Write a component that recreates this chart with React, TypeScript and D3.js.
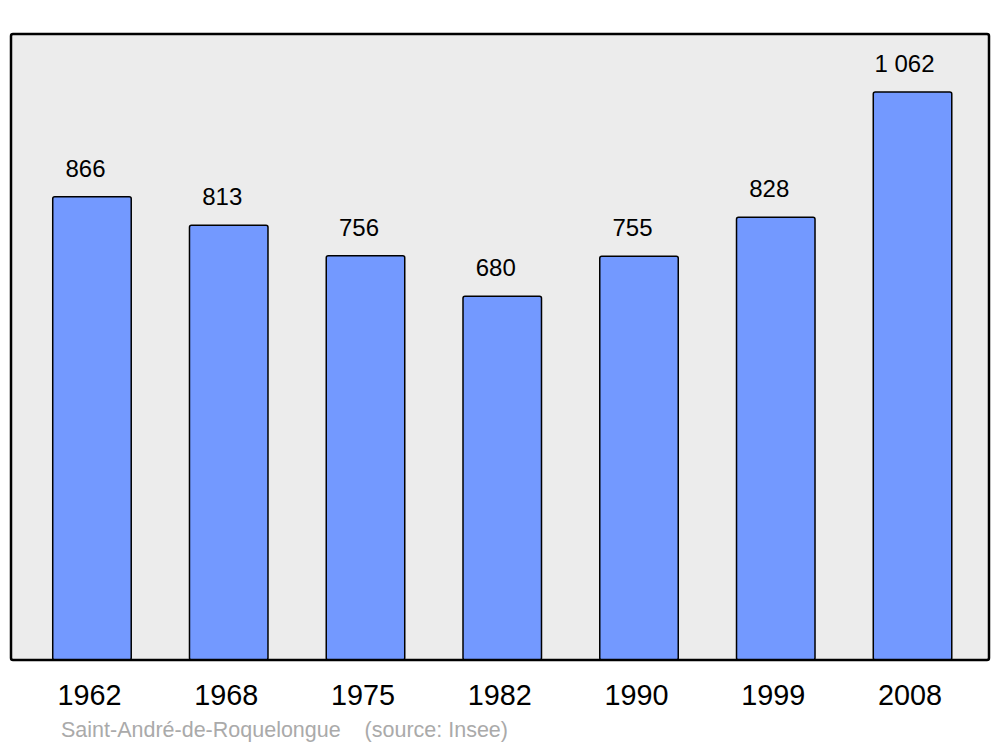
import React from "react";
import * as d3 from "d3";

const years: string[] = ["1962", "1968", "1975", "1982", "1990", "1999", "2008"];
const population: number[] = [866, 813, 756, 680, 755, 828, 1062];
const sourceLabel = "Saint-André-de-Roquelongue    (source: Insee)";

const W = 1000;
const H = 747;
const frame = { x: 11, y: 34, w: 978, h: 626 };

const fmt = (v: number) => d3.format(",")(v).replace(/,/g, " ");

export default function App() {
  const x = d3
    .scaleBand<string>()
    .domain(years)
    .range([23.6, 980.9])
    .paddingInner(0.426)
    .paddingOuter(0.213);
  const y = d3.scaleLinear().domain([0, 1170.5]).range([660, 34]);

  return (
    <svg
      width={W}
      height={H}
      style={{ position: "absolute", left: 0, top: 0 }}
      fontFamily="'Liberation Sans', Arial, sans-serif"
    >
      <rect x={0} y={0} width={W} height={H} fill="#ffffff" />
      <rect
        x={frame.x}
        y={frame.y}
        width={frame.w}
        height={frame.h}
        rx={2}
        fill="#ececec"
        stroke="none"
      />
      {years.map((yr, i) => {
        const bx = x(yr)!;
        const by = y(population[i]);
        const label = fmt(population[i]);
        return (
          <g key={yr}>
            <rect
              x={bx}
              y={by}
              width={x.bandwidth()}
              height={y(0) - by}
              rx={2}
              fill="#7399ff"
              stroke="#000"
              strokeWidth={1.5}
            />
            <text
              x={bx + x.bandwidth() / 2 - (label.length > 3 ? 8 : 6.5)}
              y={by - 20}
              textAnchor="middle"
              fontSize={24}
              fill="#000"
              style={{ whiteSpace: "pre" }}
            >
              {label}
            </text>
            <text
              x={bx + x.bandwidth() / 2 - 2.5}
              y={705}
              textAnchor="middle"
              fontSize={28.8}
              fill="#000"
            >
              {yr}
            </text>
          </g>
        );
      })}
      <rect
        x={frame.x}
        y={frame.y}
        width={frame.w}
        height={frame.h}
        rx={2}
        fill="none"
        stroke="#000"
        strokeWidth={2.5}
      />
      <text x={61} y={737} fontSize={21.5} fill="#aaaaaa" style={{ whiteSpace: "pre" }}>
        {sourceLabel}
      </text>
    </svg>
  );
}
